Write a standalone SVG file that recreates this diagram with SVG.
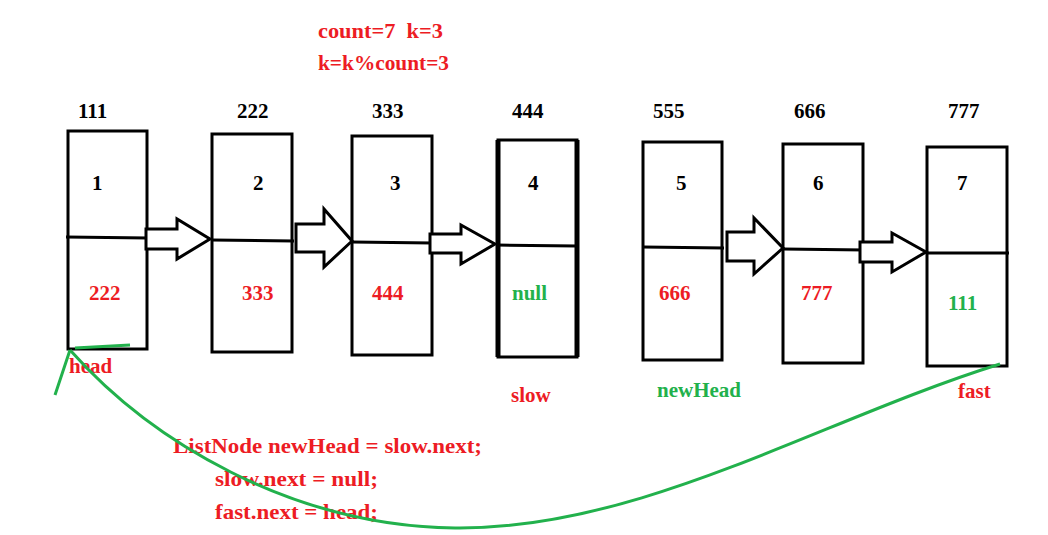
<svg xmlns="http://www.w3.org/2000/svg" width="1048" height="535" viewBox="0 0 1048 535">
<style>
text{font-family:"Liberation Serif","Times New Roman",serif;font-weight:bold;font-size:21px}
.k{fill:#000}
.r{fill:#ed1c24}
.g{fill:#22b14c}
.box{fill:none;stroke:#000;stroke-width:3}
.div{stroke:#000;stroke-width:3}
.arr{fill:#fff;stroke:#000;stroke-width:3;stroke-linejoin:miter}
.gl{fill:none;stroke:#22b14c;stroke-width:3}
</style>
<rect width="1048" height="535" fill="#fff"/>
<g id="title">
<text class="r" x="318" y="38" textLength="125" lengthAdjust="spacingAndGlyphs">count=7&#160;&#160;k=3</text>
<text class="r" x="318" y="70" textLength="131" lengthAdjust="spacingAndGlyphs">k=k%count=3</text>
</g>
<g id="node1">
<text class="k" x="78" y="118">111</text>
<rect class="box" x="68" y="131" width="79" height="218"/>
<line class="div" x1="66" y1="237" x2="148" y2="238"/>
<text class="k" x="92" y="190">1</text>
<text class="r" x="89" y="300">222</text>
</g>
<g id="node2">
<text class="k" x="237" y="118">222</text>
<rect class="box" x="212" y="134" width="80" height="218"/>
<line class="div" x1="212" y1="240" x2="294" y2="241"/>
<text class="k" x="253" y="190">2</text>
<text class="r" x="242" y="300">333</text>
</g>
<g id="node3">
<text class="k" x="372" y="118">333</text>
<rect class="box" x="352" y="136" width="80" height="219"/>
<line class="div" x1="352" y1="242" x2="432" y2="243"/>
<text class="k" x="390" y="190">3</text>
<text class="r" x="372" y="300">444</text>
</g>
<g id="node4">
<text class="k" x="512" y="118">444</text>
<rect class="box" x="498" y="140" width="79" height="217"/>
<line class="div" x1="498" y1="140" x2="498" y2="357" style="stroke-width:5"/>
<line class="div" x1="577" y1="140" x2="577" y2="357" style="stroke-width:5"/>
<line class="div" x1="497" y1="245" x2="577" y2="246"/>
<text class="k" x="528" y="190">4</text>
<text class="g" x="512" y="300">null</text>
</g>
<g id="node5">
<text class="k" x="653" y="118">555</text>
<rect class="box" x="643" y="142" width="79" height="218"/>
<line class="div" x1="643" y1="247" x2="724" y2="248"/>
<text class="k" x="676" y="190">5</text>
<text class="r" x="659" y="300">666</text>
</g>
<g id="node6">
<text class="k" x="794" y="118">666</text>
<rect class="box" x="783" y="144" width="80" height="219"/>
<line class="div" x1="783" y1="249" x2="865" y2="250"/>
<text class="k" x="813" y="190">6</text>
<text class="r" x="801" y="300">777</text>
</g>
<g id="node7">
<text class="k" x="948" y="118">777</text>
<rect class="box" x="927" y="147" width="80" height="219"/>
<line class="div" x1="927" y1="253" x2="1009" y2="253"/>
<text class="k" x="957" y="190">7</text>
<text class="g" x="948" y="310">111</text>
</g>
<g id="labels">
<text class="r" x="69" y="373">head</text>
<text class="r" x="511" y="402">slow</text>
<text class="g" x="657" y="397">newHead</text>
<text class="r" x="958" y="398">fast</text>
<text class="r" x="173" y="453" textLength="309" lengthAdjust="spacingAndGlyphs">ListNode newHead = slow.next;</text>
<text class="r" x="215" y="486" textLength="163" lengthAdjust="spacingAndGlyphs">slow.next = null;</text>
<text class="r" x="215" y="519" textLength="163" lengthAdjust="spacingAndGlyphs">fast.next = head;</text>
</g>
<g id="connectors">
<polygon class="arr" points="146,229 177,229 177,219 210,239 177,259 177,249 146,249"/>
<polygon class="arr" points="296,224 324,224 324,209 352,241 324,267 324,252 296,252"/>
<polygon class="arr" points="430,234 461,234 461,225 495,244 461,264 461,253 430,253"/>
<polygon class="arr" points="727,232 754,232 754,218 783,248 754,274 754,261 727,261"/>
<polygon class="arr" points="860,242 892,242 892,233 926,252 892,272 892,262 860,262"/>
<path class="gl" d="M1000,364 C820,420 640,530 455,528 C290,526 150,440 70,350"/>
<line class="gl" x1="70" y1="350" x2="55" y2="395"/>
<line class="gl" x1="75" y1="348" x2="130" y2="345"/>
</g>
</svg>
